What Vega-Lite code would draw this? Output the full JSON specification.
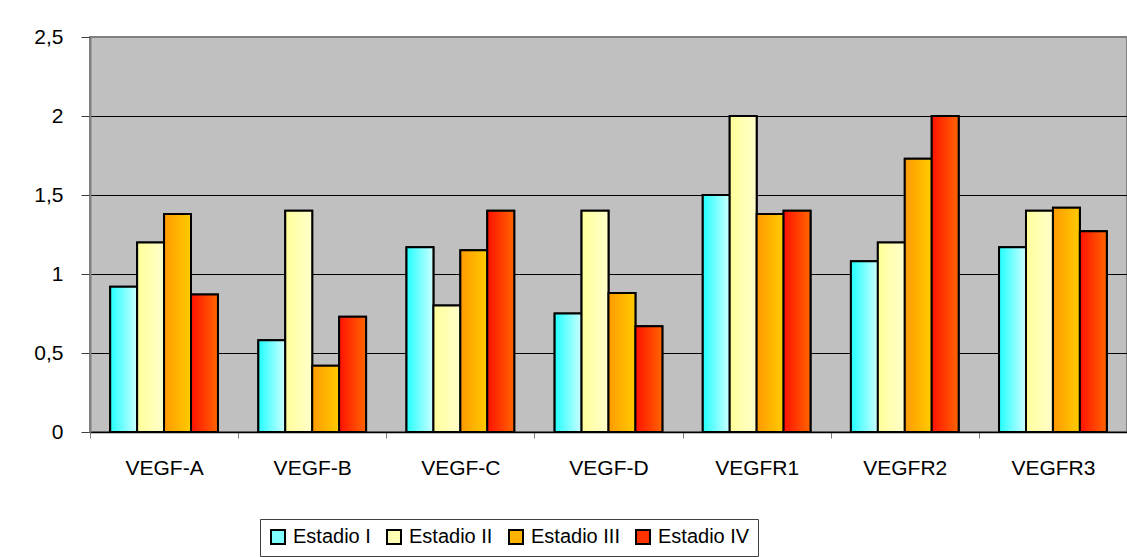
{
  "$schema": "https://vega.github.io/schema/vega-lite/v6.json",
  "width": 1037,
  "height": 395,
  "autosize": {"type": "none"},
  "padding": {"left": 90, "top": 37, "right": 0, "bottom": 125},
  "background": "white",
  "config": {
    "view": {"fill": "#C0C0C0", "stroke": "#808080", "strokeWidth": 2},
    "font": "Liberation Sans"
  },
  "data": {
    "values": [
      {"gen": "VEGF-A", "estadio": "Estadio I", "valor": 0.92},
      {"gen": "VEGF-A", "estadio": "Estadio II", "valor": 1.2},
      {"gen": "VEGF-A", "estadio": "Estadio III", "valor": 1.38},
      {"gen": "VEGF-A", "estadio": "Estadio IV", "valor": 0.87},
      {"gen": "VEGF-B", "estadio": "Estadio I", "valor": 0.58},
      {"gen": "VEGF-B", "estadio": "Estadio II", "valor": 1.4},
      {"gen": "VEGF-B", "estadio": "Estadio III", "valor": 0.42},
      {"gen": "VEGF-B", "estadio": "Estadio IV", "valor": 0.73},
      {"gen": "VEGF-C", "estadio": "Estadio I", "valor": 1.17},
      {"gen": "VEGF-C", "estadio": "Estadio II", "valor": 0.8},
      {"gen": "VEGF-C", "estadio": "Estadio III", "valor": 1.15},
      {"gen": "VEGF-C", "estadio": "Estadio IV", "valor": 1.4},
      {"gen": "VEGF-D", "estadio": "Estadio I", "valor": 0.75},
      {"gen": "VEGF-D", "estadio": "Estadio II", "valor": 1.4},
      {"gen": "VEGF-D", "estadio": "Estadio III", "valor": 0.88},
      {"gen": "VEGF-D", "estadio": "Estadio IV", "valor": 0.67},
      {"gen": "VEGFR1", "estadio": "Estadio I", "valor": 1.5},
      {"gen": "VEGFR1", "estadio": "Estadio II", "valor": 2.0},
      {"gen": "VEGFR1", "estadio": "Estadio III", "valor": 1.38},
      {"gen": "VEGFR1", "estadio": "Estadio IV", "valor": 1.4},
      {"gen": "VEGFR2", "estadio": "Estadio I", "valor": 1.08},
      {"gen": "VEGFR2", "estadio": "Estadio II", "valor": 1.2},
      {"gen": "VEGFR2", "estadio": "Estadio III", "valor": 1.73},
      {"gen": "VEGFR2", "estadio": "Estadio IV", "valor": 2.0},
      {"gen": "VEGFR3", "estadio": "Estadio I", "valor": 1.17},
      {"gen": "VEGFR3", "estadio": "Estadio II", "valor": 1.4},
      {"gen": "VEGFR3", "estadio": "Estadio III", "valor": 1.42},
      {"gen": "VEGFR3", "estadio": "Estadio IV", "valor": 1.27}
    ]
  },
  "encoding": {
    "x": {
      "field": "gen",
      "type": "nominal",
      "sort": null,
      "scale": {"paddingInner": 0, "paddingOuter": 0},
      "axis": {
        "title": null,
        "labelAngle": 0,
        "labelFont": "Liberation Sans",
        "labelFontSize": 21,
        "labelColor": "black",
        "labelPadding": 19,
        "tickBand": "extent",
        "tickSize": 6,
        "tickColor": "#808080",
        "tickWidth": 1,
        "domainColor": "black",
        "domainWidth": 1.5,
        "grid": false
      }
    },
    "xOffset": {
      "field": "estadio",
      "type": "nominal",
      "sort": null,
      "scale": {"paddingInner": 0, "paddingOuter": 0.75}
    },
    "y": {
      "field": "valor",
      "type": "quantitative",
      "scale": {"domain": [0, 2.5], "nice": false},
      "axis": {
        "title": null,
        "values": [0, 0.5, 1, 1.5, 2, 2.5],
        "format": ".1~f",
        "labelExpr": "replace(datum.label, '.', ',')",
        "labelFont": "Liberation Sans",
        "labelFontSize": 21,
        "labelColor": "black",
        "labelPadding": 18,
        "tickSize": 9,
        "tickColor": "#404040",
        "domainColor": "#808080",
        "domainWidth": 2,
        "grid": true,
        "gridColor": {"condition": {"test": "datum.value == 2.5", "value": "#808080"}, "value": "black"},
        "gridWidth": 1,
        "gridOpacity": 1
      }
    }
  },
  "layer": [
    {
      "mark": {"type": "bar", "stroke": "black", "strokeWidth": 2},
      "encoding": {
        "fill": {
          "field": "estadio",
          "type": "nominal",
          "sort": null,
          "scale": {
            "domain": ["Estadio I", "Estadio II", "Estadio III", "Estadio IV"],
            "range": ["#7FFFFF", "#FFFFB3", "#FFB300", "#FF3300"]
          },
          "legend": {
            "title": null,
            "orient": "none",
            "legendX": 170,
            "legendY": 482,
            "direction": "horizontal",
            "strokeColor": "#404040",
            "fillColor": "white",
            "padding": 8,
            "symbolType": "square",
            "symbolSize": 196,
            "symbolStrokeColor": "black",
            "symbolStrokeWidth": 2,
            "symbolOpacity": 1,
            "labelFont": "Liberation Sans",
            "labelFontSize": 20,
            "labelColor": "black",
            "labelOffset": 5,
            "columnPadding": 12
          }
        }
      }
    },
    {
      "mark": {"type": "bar", "stroke": "black", "strokeWidth": 2},
      "encoding": {
        "fill": {
          "condition": [
            {"test": "datum.estadio === 'Estadio I'", "value": {"gradient": "linear", "x1": 0, "y1": 0, "x2": 1, "y2": 0, "stops": [{"offset": 0, "color": "#22FFFF"}, {"offset": 1, "color": "#CCFFFF"}]}},
            {"test": "datum.estadio === 'Estadio II'", "value": {"gradient": "linear", "x1": 0, "y1": 0, "x2": 1, "y2": 0, "stops": [{"offset": 0, "color": "#FFFF99"}, {"offset": 1, "color": "#FFFFCC"}]}},
            {"test": "datum.estadio === 'Estadio III'", "value": {"gradient": "linear", "x1": 0, "y1": 0, "x2": 1, "y2": 0, "stops": [{"offset": 0, "color": "#FF9900"}, {"offset": 1, "color": "#FFCC00"}]}}
          ],
          "value": {"gradient": "linear", "x1": 0, "y1": 0, "x2": 1, "y2": 0, "stops": [{"offset": 0, "color": "#FF1100"}, {"offset": 1, "color": "#FF6600"}]}
        }
      }
    }
  ]
}
